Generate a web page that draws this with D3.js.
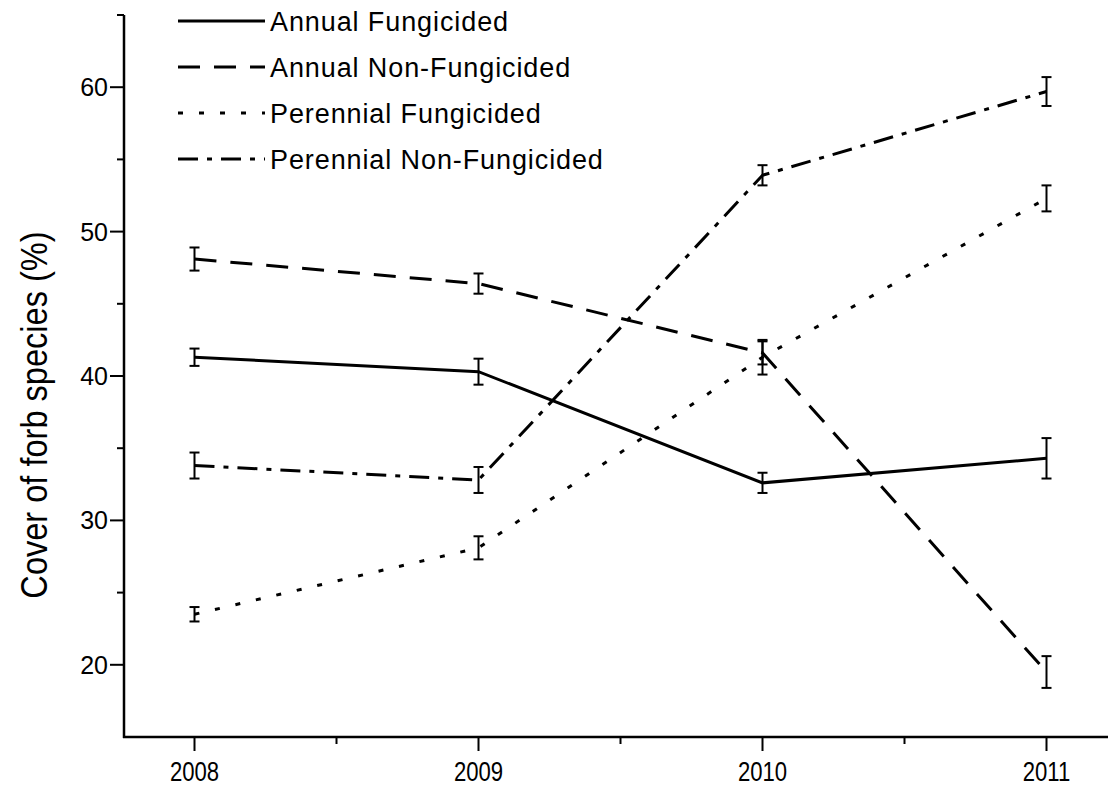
<!DOCTYPE html>
<html>
<head>
<meta charset="utf-8">
<script src="https://cdn.jsdelivr.net/npm/d3@7"></script>
<style>
  html, body { margin: 0; padding: 0; background: #fff; }
  svg { display: block; }
</style>
</head>
<body>
<svg id="chart" width="1108" height="788"></svg>
<script>
// ---- data ----
const years = [2008, 2009, 2010, 2011];
const seriesNames = ["Annual Fungicided", "Annual Non-Fungicided", "Perennial Fungicided", "Perennial Non-Fungicided"];
const annualFungicided      = [41.3, 40.3, 32.6, 34.3];
const annualFungicidedErr   = [0.6, 0.9, 0.7, 1.4];
const annualNonFungicided   = [48.1, 46.4, 41.6, 19.5];
const annualNonFungicidedErr= [0.8, 0.7, 0.8, 1.1];
const perennialFungicided   = [23.5, 28.1, 41.3, 52.3];
const perennialFungicidedErr= [0.5, 0.8, 1.2, 0.9];
const perennialNonFungicided   = [33.8, 32.8, 53.9, 59.7];
const perennialNonFungicidedErr= [0.9, 0.9, 0.7, 1.0];
const yMajorTicks = [20, 30, 40, 50, 60];
const yMinorTicks = [25, 35, 45, 55, 65];
const xMinorTicks = [2008.5, 2009.5, 2010.5];
const yTitle = "Cover of forb species (%)";

const seriesValues = [annualFungicided, annualNonFungicided, perennialFungicided, perennialNonFungicided];
const seriesErrors = [annualFungicidedErr, annualNonFungicidedErr, perennialFungicidedErr, perennialNonFungicidedErr];
const dashes = [null, "22,14", "5,16", "20,9,5,9"];

const svg = d3.select("#chart");
const x = d3.scaleLinear().domain([2008, 2011]).range([194.5, 1046.5]);
const y = d3.scaleLinear().domain([15, 65]).range([737, 15]);
const xLeft = 124, xRight = 1108;
const FONT = "'Liberation Sans', Arial, Helvetica, sans-serif";

// x axis
const xAxisG = svg.append("g").attr("transform", `translate(0,${y(15)})`);
xAxisG.append("line").attr("x1", xLeft - 1).attr("x2", xRight).attr("y1", 0).attr("y2", 0)
  .attr("stroke", "#000").attr("stroke-width", 2.5);
xAxisG.selectAll(".xmaj").data(years).join("line")
  .attr("x1", d => x(d)).attr("x2", d => x(d)).attr("y1", 0).attr("y2", 14)
  .attr("stroke", "#000").attr("stroke-width", 2);
xAxisG.selectAll(".xmin").data(xMinorTicks).join("line")
  .attr("x1", d => x(d)).attr("x2", d => x(d)).attr("y1", 0).attr("y2", 7)
  .attr("stroke", "#000").attr("stroke-width", 2);
xAxisG.selectAll("text").data(years).join("text")
  .attr("transform", d => `translate(${x(d)},44) scale(0.82,1)`)
  .attr("text-anchor", "middle")
  .attr("font-family", FONT)
  .attr("font-size", 27)
  .text(d => d);

// y axis
const yAxisG = svg.append("g").attr("transform", `translate(${xLeft},0)`);
yAxisG.append("line").attr("x1", 0).attr("x2", 0).attr("y1", y(65)).attr("y2", y(15) + 1)
  .attr("stroke", "#000").attr("stroke-width", 2.5);
yAxisG.selectAll(".ymaj").data(yMajorTicks).join("line")
  .attr("x1", -14).attr("x2", 0).attr("y1", d => y(d)).attr("y2", d => y(d))
  .attr("stroke", "#000").attr("stroke-width", 2);
yAxisG.selectAll(".ymin").data(yMinorTicks).join("line")
  .attr("x1", -7).attr("x2", 0).attr("y1", d => y(d)).attr("y2", d => y(d))
  .attr("stroke", "#000").attr("stroke-width", 2);
yAxisG.selectAll("text").data(yMajorTicks).join("text")
  .attr("x", -16).attr("y", d => y(d)).attr("dy", "0.36em")
  .attr("text-anchor", "end")
  .attr("font-family", FONT)
  .attr("font-size", 25)
  .text(d => d);

svg.append("text")
  .attr("transform", `translate(47,415) rotate(-90) scale(0.88,1)`)
  .attr("text-anchor", "middle")
  .attr("font-family", FONT)
  .attr("font-size", 37)
  .text(yTitle);

// lines
const line = d3.line().x((d, i) => x(years[i])).y(d => y(d));
seriesValues.forEach((vals, k) => {
  svg.append("path").datum(vals)
    .attr("d", line)
    .attr("fill", "none")
    .attr("stroke", "#000")
    .attr("stroke-width", 3)
    .attr("stroke-dasharray", dashes[k]);
});

// error bars
seriesValues.forEach((vals, k) => {
  const errs = seriesErrors[k];
  const g = svg.append("g");
  vals.forEach((v, i) => {
    const cx = x(years[i]);
    const yt = y(v + errs[i]), yb = y(v - errs[i]);
    g.append("line").attr("x1", cx).attr("x2", cx).attr("y1", yt).attr("y2", yb)
      .attr("stroke", "#000").attr("stroke-width", 2);
    [yt, yb].forEach(yy => {
      g.append("line").attr("x1", cx - 5).attr("x2", cx + 5).attr("y1", yy).attr("y2", yy)
        .attr("stroke", "#000").attr("stroke-width", 2);
    });
  });
});

// legend
const legend = svg.append("g");
seriesNames.forEach((name, k) => {
  const ly = 21 + k * 46;
  legend.append("line").attr("x1", 178).attr("x2", 265).attr("y1", ly).attr("y2", ly)
    .attr("stroke", "#000").attr("stroke-width", 3)
    .attr("stroke-dasharray", dashes[k]);
  legend.append("text").attr("x", 270).attr("y", ly).attr("dy", "0.36em")
    .attr("font-family", FONT)
    .attr("font-size", 27)
    .attr("letter-spacing", 0.9)
    .text(name);
});
</script>
</body>
</html>
